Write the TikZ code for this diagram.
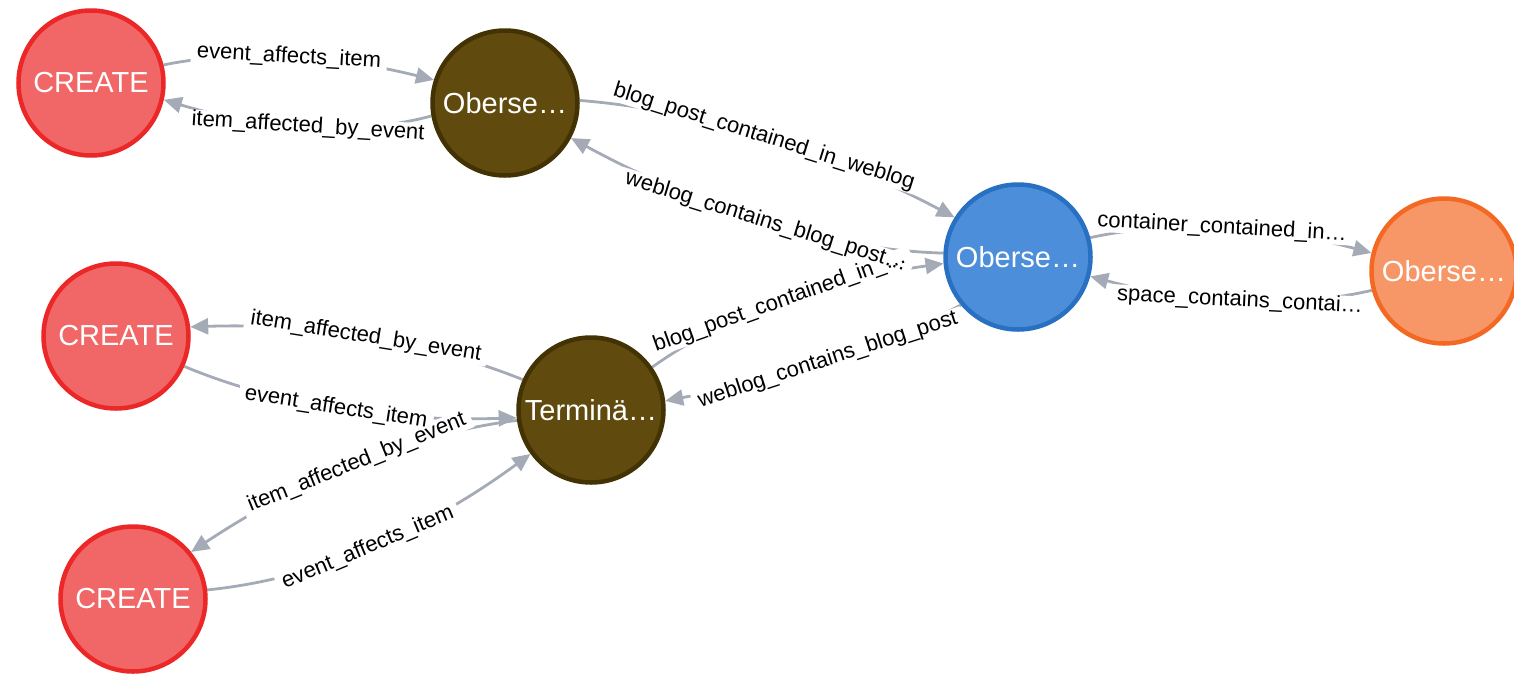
\documentclass[tikz,border=0pt]{standalone}
\usepackage{fontspec}
\setmainfont{Liberation Sans}
\usetikzlibrary{calc,arrows.meta}

\definecolor{createfill}{HTML}{F16667}
\definecolor{createline}{HTML}{EB2728}
\definecolor{brownfill}{HTML}{604A0E}
\definecolor{brownline}{HTML}{423204}
\definecolor{bluefill}{HTML}{4C8EDA}
\definecolor{blueline}{HTML}{2870C2}
\definecolor{orangefill}{HTML}{F79767}
\definecolor{orangeline}{HTML}{F36924}
\definecolor{edgegray}{HTML}{A5ABB6}

\pgfdeclarelayer{edges}
\pgfsetlayers{edges,main}

\tikzset{
  graphnode/.style={circle, minimum size=145pt, inner sep=0pt, line width=4.5pt,
    text=white, font=\fontsize{29}{32}\selectfont},
  createnode/.style={graphnode, fill=createfill, draw=createline},
  brownnode/.style={graphnode, fill=brownfill, draw=brownline},
  bluenode/.style={graphnode, fill=bluefill, draw=blueline},
  orangenode/.style={graphnode, fill=orangefill, draw=orangeline},
  lblbase/.style={font=\fontsize{22}{24}\selectfont, text height=16pt, text depth=5pt,
    inner xsep=6pt, inner ysep=0pt},
}

% shown label text, or only its room
\newcommand\plainlbl[1]{#1}
\let\lbltext\plainlbl

% A relationship: quadratic arc from #1 through the point #2 (reached at its middle) to #3
\newcommand\relcurve[4]{%
  \path[relpath] (#1) .. controls ($1.3333*(#2)-0.3333*(#3)$) and ($1.3333*(#2)-0.3333*(#1)$) .. (#3)
    node[midway, sloped, rellabel] {\lbltext{#4}};%
}

\newcommand\allrels{%
  \relcurve{c1.14}{289,-57}{o1.162}{event\_affects\_item}
  \relcurve{o1.190}{308,-127}{c1.347}{item\_affected\_by\_event}
  \relcurve{o1.2}{764,-137}{o2.148}{blog\_post\_contained\_in\_weblog}
  \relcurve{o2.177}{766,-222}{o1.332}{weblog\_contains\_blog\_post…}
  \relcurve{t.35}{780,-302}{o2.185}{blog\_post\_contained\_in\_…}
  \relcurve{o2.220}{828,-360}{t.7}{weblog\_contains\_blog\_post}
  \relcurve{o2.15}{1222,-228}{o3.166}{container\_contained\_in…}
  \relcurve{o3.195}{1240,-301}{o2.345}{space\_contains\_contai…}
  \relcurve{t.156}{366,-337}{c2.7}{item\_affected\_by\_event}
  \relcurve{c2.336}{336,-408}{t.186}{event\_affects\_item}
  \relcurve{t.188}{357,-463}{c3.39}{item\_affected\_by\_event}
  \relcurve{c3.7}{368,-548}{t.216}{event\_affects\_item}
}

\begin{document}
\begin{tikzpicture}[x=1pt,y=1pt]
\useasboundingbox (0,0) rectangle (1514,-675);

% nodes
\node[createnode] (c1) at (91,-83) {CREATE};
\node[brownnode]  (o1) at (505,-103) {Oberse…};
\node[createnode] (c2) at (116,-336) {CREATE};
\node[brownnode]  (t)  at (591,-410) {Terminä…};
\node[createnode] (c3) at (133,-599) {CREATE};
\node[bluenode]   (o2) at (1018,-257) {Oberse…};
\node[orangenode] (o3) at (1444,-271) {Oberse…};

% relationships: lines, then label gaps, then label texts
\begin{pgfonlayer}{edges}
  \let\lbltext\phantom
  \begin{scope}[relpath/.style={draw=edgegray, line width=2.8pt, -{Triangle[length=18pt,width=16pt]}},
                rellabel/.style={lblbase}]
    \allrels
  \end{scope}
  \begin{scope}[relpath/.style={}, rellabel/.style={lblbase, fill=white}]
    \allrels
  \end{scope}
  \let\lbltext\plainlbl
  \begin{scope}[relpath/.style={}, rellabel/.style={lblbase, text=black}]
    \allrels
  \end{scope}
\end{pgfonlayer}
\end{tikzpicture}
\end{document}
